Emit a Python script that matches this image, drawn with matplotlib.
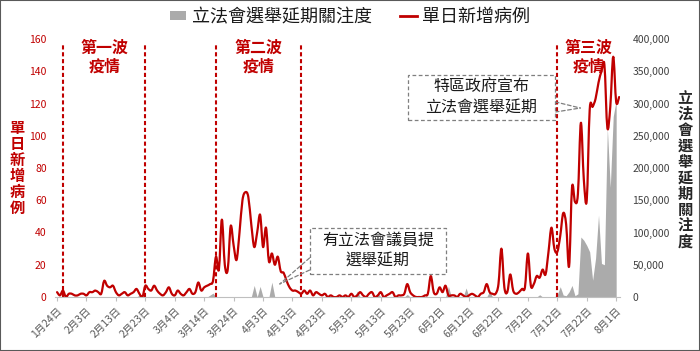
import numpy as np
import pandas as pd
import matplotlib
matplotlib.use('Agg')
import matplotlib.pyplot as plt
from matplotlib.patches import Patch, Rectangle, PathPatch
from matplotlib.path import Path
from matplotlib.lines import Line2D
from matplotlib.ticker import FuncFormatter, FixedLocator

plt.rcParams['font.family'] = ['Noto Sans CJK TC', 'DejaVu Sans']

start_date = pd.Timestamp('2020-01-24')

# 單日新增病例 (daily new cases), one value per day from 1月24日
cases = [
    3, 1, 4, 0, 2, 2, 1, 1, 2, 2,
    1, 3, 3, 4, 3, 2, 10, 7, 6, 7,
    3, 1, 2, 3, 1, 2, 3, 5, 2, 0,
    7, 5, 4, 7, 4, 2, 1, 3, 6, 2,
    1, 4, 2, 1, 3, 5, 2, 3, 9, 4,
    6, 7, 8, 10, 25, 17, 48, 20, 17, 44,
    32, 23, 40, 60, 65, 62, 45, 31, 40, 51,
    31, 43, 22, 27, 20, 25, 16, 15, 10, 6,
    4, 4, 3, 2, 4, 2, 4, 1, 3, 2,
    1, 2, 0, 1, 0, 0, 1, 0, 1, 0,
    2, 0, 1, 3, 1, 0, 2, 3, 0, 1,
    3, 0, 1, 2, 3, 0, 1, 1, 2, 8,
    3, 1, 0, 0, 0, 1, 2, 13, 3, 2,
    6, 3, 7, 1, 1, 1, 0, 2, 1, 0,
    1, 2, 1, 0, 2, 3, 8, 3, 2, 2,
    8, 30, 6, 3, 14, 4, 2, 3, 5, 6,
    27, 7, 8, 13, 12, 17, 14, 28, 43, 30,
    28, 38, 52, 45, 19, 68, 59, 64, 108, 73,
    60, 116, 118, 123, 133, 140, 144, 105, 118, 149,
    121, 124,
]

# 立法會選舉延期關注度 (attention index), same days
interest = [0] * 192
interest_points = {
    28: 3000, 52: 3000, 53: 6000,
    67: 18000, 69: 16500, 73: 23000,
    102: 9000, 109: 6000, 119: 4000, 133: 16500, 139: 14000, 147: 9000, 164: 3500,
    170: 4000, 171: 16000, 172: 3000, 173: 2000, 174: 8000, 175: 18000, 176: 2000,
    177: 5000, 178: 93000, 179: 88000, 180: 80000, 181: 70000, 182: 26000,
    183: 60000, 184: 127000, 185: 52000, 186: 50000, 187: 262000, 188: 170000,
    189: 280000, 190: 305000,
}
for k, v in interest_points.items():
    interest[k] = v
interest = np.array(interest, dtype=float)
interest[191] = np.nan

tick_labels = ['1月24日', '2月3日', '2月13日', '2月23日', '3月4日', '3月14日', '3月24日',
               '4月3日', '4月13日', '4月23日', '5月3日', '5月13日', '5月23日', '6月2日',
               '6月12日', '6月22日', '7月2日', '7月12日', '7月22日', '8月1日']

wave_dates = ['2020-01-26', '2020-02-23', '2020-03-18', '2020-04-16', '2020-07-12']
wave_names = ['第一波\n疫情', '第二波\n疫情', '第三波\n疫情']

RED = '#C00000'
GRAY = '#ABABAB'

days = np.arange(len(cases))
tick_days = np.arange(0, 10 * len(tick_labels), 10)
wave_days = [(pd.Timestamp(d) - start_date).days for d in wave_dates]

fig = plt.figure(figsize=(7.0, 3.51), dpi=100)
W, H = 700, 351
ax = fig.add_axes([55 / W, 54 / H, 565 / W, 258 / H])
ax2 = ax.twinx()
ax.set_zorder(ax2.get_zorder() + 1)
ax.patch.set_visible(False)

ax2.fill_between(days, 0, interest, color=GRAY, lw=0)

# smoothed line (Catmull-Rom drawn as cubic Bezier path through the data points)
pts = np.column_stack([days, cases]).astype(float)
ext = np.vstack([pts[0], pts, pts[-1]])
verts = [pts[0]]
codes = [Path.MOVETO]
for i in range(len(pts) - 1):
    p0, p1, p2, p3 = ext[i], ext[i + 1], ext[i + 2], ext[i + 3]
    verts += [p1 + (p2 - p0) / 6.0, p2 - (p3 - p1) / 6.0, p2]
    codes += [Path.CURVE4] * 3
ax.add_patch(PathPatch(Path(verts, codes), fill=False, ec=RED, lw=1.6,
                       joinstyle='round', capstyle='round'))

ax.set_xlim(-0.7, 191.3)
ax.set_ylim(0, 160)
ax2.set_ylim(0, 400000)

for d in wave_days:
    ax.axvline(d, ymin=0, ymax=0.975, color=RED, lw=1.5, ls=(0, (2, 1.3)))

spans = [(wave_days[0], wave_days[1]), (wave_days[2], wave_days[3]),
         (wave_days[4], days[-1])]
for (a, b), name in zip(spans, wave_names):
    ax.text((a + b) / 2, 148.5, name, ha='center', va='center', color=RED,
            fontsize=11.5, fontweight='bold', linespacing=1.2)

# axes styling
for a in (ax, ax2):
    for s in ['top', 'left', 'right', 'bottom']:
        a.spines[s].set_visible(False)
ax.spines['bottom'].set_visible(True)
ax.spines['bottom'].set_color('#BFBFBF')
ax.xaxis.set_major_locator(FixedLocator(tick_days))
ax.set_xticklabels(tick_labels, rotation=45, ha='right', rotation_mode='anchor',
                   fontsize=7.5, color='#595959')
ax.tick_params(axis='x', length=3, color='#BFBFBF', pad=3)

ax.set_yticks(np.arange(0, 161, 20))
ax.tick_params(axis='y', length=0, pad=6, labelsize=7.5, labelcolor=RED)
ax2.set_yticks(np.arange(0, 400001, 50000))
ax2.yaxis.set_major_formatter(FuncFormatter(lambda v, p: f'{int(v):,}'))
ax2.tick_params(axis='y', length=0, pad=9, labelsize=7.5, labelcolor='#404040')

# vertical axis titles
fig.text(17 / W, 1 - 168 / H, '\n'.join('單日新增病例'), ha='center', va='center',
         color=RED, fontsize=11, fontweight='bold', linespacing=1.0)
fig.text(685 / W, 1 - 170 / H, '\n'.join('立法會選舉延期關注度'), ha='center', va='center',
         color='#262626', fontsize=11, fontweight='bold', linespacing=1.0)

# callout boxes
ax.add_patch(Rectangle((85.8, 14.3), 46.5, 28.5, facecolor='white', fill=True,
                       ec='#7F7F7F', lw=0.9, ls=(0, (3, 2)), zorder=5))
ax.text(109.0, 28.5, '有立法會議員提\n選舉延期', ha='center', va='center', fontsize=11.5,
        color='#1A1A1A', linespacing=1.25, zorder=6)
for yb in (24.2, 16.7):
    ax.annotate('', xy=(75.7, 8.1), xytext=(85.8, yb),
                arrowprops=dict(arrowstyle='-', color='#7F7F7F', lw=0.9, ls=(0, (3, 2)),
                                shrinkA=0, shrinkB=0))

ax.add_patch(Rectangle((119.1, 109.8), 50.2, 27.9, facecolor='white', fill=True,
                       ec='#7F7F7F', lw=0.9, ls=(0, (3, 2)), zorder=5))
ax.text(144.2, 123.7, '特區政府宣布\n立法會選舉延期', ha='center', va='center', fontsize=11.5,
        color='#1A1A1A', linespacing=1.25, zorder=6)
for yb in (121.0, 114.7):
    ax.annotate('', xy=(177.8, 117.2), xytext=(169.3, yb),
                arrowprops=dict(arrowstyle='-', color='#7F7F7F', lw=0.9, ls=(0, (3, 2)),
                                shrinkA=0, shrinkB=0))

# legend
handles = [Patch(facecolor=GRAY, edgecolor='none'), Line2D([], [], color=RED, lw=2)]
fig.legend(handles, ['立法會選舉延期關注度', '單日新增病例'], loc='center',
           bbox_to_anchor=(350 / W, 1 - 17 / H), ncol=2, frameon=False, fontsize=13,
           handlelength=0.9, handleheight=0.45, handletextpad=0.3, columnspacing=1.6,
           labelcolor='#1A1A1A')

fig.patches.append(Rectangle((0, 0), 1, 1, transform=fig.transFigure, fill=False,
                             ec='#595959', lw=1.5))

fig.savefig('out.png', dpi=100)
